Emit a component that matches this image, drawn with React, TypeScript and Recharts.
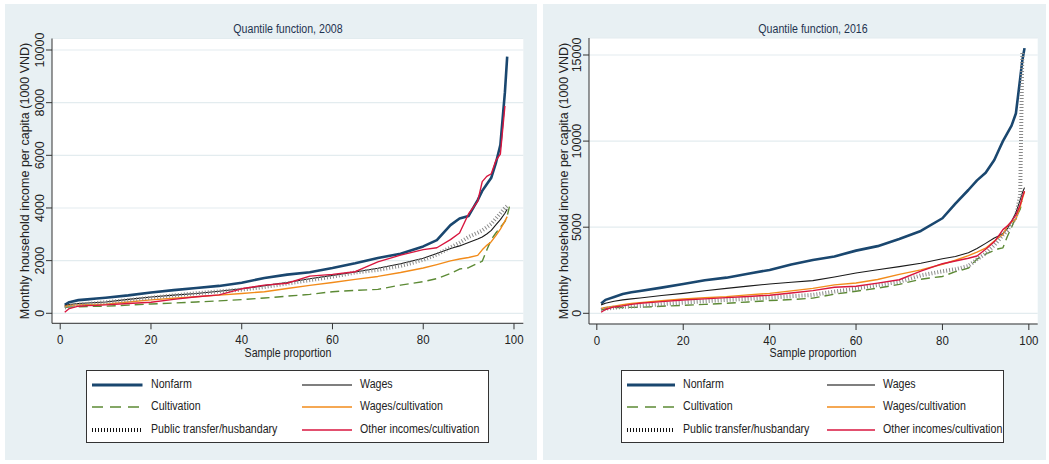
import React from "react";
import { LineChart, Line, XAxis, YAxis, CartesianGrid } from "recharts";

// sample proportion (%) at which the quantiles are read
const pct = [1, 2, 4, 6, 8, 10, 15, 20, 25, 30, 35, 40, 45, 50, 55, 60, 65, 70, 75, 80, 83, 86, 88, 90, 92, 93, 94, 95, 96, 97, 98, 98.5, 99];

// 2008 (1000 VND per capita per month)
const nonfarm2008 = [320, 420, 500, 530, 560, 590, 680, 790, 880, 960, 1040, 1160, 1340, 1470, 1560, 1720, 1900, 2100, 2260, 2540, 2780, 3350, 3600, 3700, 4300, 4650, 4900, 5150, 5700, 6400, 8400, 9750, null];
const wages2008 = [290, 330, 370, 390, 410, 430, 530, 620, 690, 750, 840, 930, 1050, 1170, 1310, 1440, 1570, 1710, 1880, 2090, 2270, 2460, 2560, 2690, 2820, 2900, 3010, 3150, 3360, 3560, 3800, 3950, null];
const cultivation2008 = [230, 240, 250, 260, 265, 270, 310, 355, 390, 430, 470, 520, 580, 650, 720, 820, 870, 910, 1070, 1200, 1320, 1510, 1680, 1730, 1900, 1980, 2400, 2800, 3050, 3270, 3480, 3700, 4050];
const wagesCult2008 = [260, 300, 320, 330, 340, 350, 430, 510, 570, 630, 690, 750, 820, 940, 1060, 1170, 1290, 1400, 1550, 1720, 1850, 1990, 2060, 2120, 2200, 2410, 2580, 2720, 2950, 3200, 3500, 3670, null];
const publicTr2008 = [220, 270, 330, 360, 390, 420, 500, 590, 680, 760, 830, 900, 1000, 1130, 1260, 1390, 1550, 1650, 1800, 2030, 2230, 2500, 2680, 2900, 3060, 3150, 3270, 3400, 3600, 3800, 4000, 4080, null];
const otherInc2008 = [40, 180, 270, 290, 300, 320, 370, 420, 530, 630, 700, 930, 1070, 1140, 1410, 1480, 1580, 1950, 2210, 2420, 2490, 2800, 3050, 3780, 4250, 5000, 5200, 5300, 5800, 6050, 7880, null, null];

// 2016
const nonfarm2016 = [570, 780, 950, 1120, 1220, 1300, 1490, 1700, 1920, 2070, 2300, 2520, 2840, 3100, 3300, 3640, 3900, 4320, 4780, 5520, 6370, 7160, 7720, 8160, 8900, 9450, 10000, 10450, 10900, 11600, 13650, 14700, 15400];
const wages2016 = [490, 580, 700, 780, 840, 890, 1030, 1160, 1310, 1450, 1580, 1700, 1800, 1900, 2110, 2340, 2530, 2710, 2910, 3170, 3300, 3520, 3760, 4060, 4370, 4490, 4640, 4900, 5330, 5850, 6600, 7000, 7300];
const cultivation2016 = [200, 260, 340, 340, 345, 350, 410, 465, 520, 580, 660, 740, 800, 880, 1110, 1280, 1460, 1680, 1980, 2140, 2420, 2620, 3150, 3440, 3660, 3750, 3800, 4450, 5000, 5550, 6050, 6500, null];
const wagesCult2016 = [280, 340, 420, 500, 570, 620, 730, 830, 900, 970, 1070, 1160, 1300, 1450, 1650, 1760, 1960, 2260, 2520, 2850, 3080, 3350, 3550, 3780, 4200, 4390, 4570, 5050, 5300, 5450, 6200, 6650, 7050];
const publicTr2016 = [190, 260, 330, 370, 400, 430, 530, 620, 700, 775, 840, 910, 990, 1070, 1260, 1430, 1640, 1830, 2200, 2440, 2560, 2750, 3130, 3480, 3960, 4250, 4550, 4800, 5200, 5600, 6900, 15200, null];
const otherInc2016 = [60, 220, 370, 430, 520, 580, 680, 775, 840, 910, 980, 1050, 1180, 1320, 1510, 1570, 1750, 1950, 2450, 2880, 3040, 3200, 3330, 3720, 4150, 4500, 4860, 5060, 5350, 5700, 6300, 6750, 7100];

const seriesKeys = ["nonfarm", "wages", "cultivation", "wagesCult", "publicTr", "otherInc"];
const seriesNames = ["Nonfarm", "Wages", "Cultivation", "Wages/cultivation", "Public transfer/husbandary", "Other incomes/cultivation"];

const xTicks = [0, 20, 40, 60, 80, 100];
const yTicks2008 = [0, 2000, 4000, 6000, 8000, 10000];
const yTicks2016 = [0, 5000, 10000, 15000];

const FONT = '"Liberation Sans", Arial, Helvetica, sans-serif';
const BG = "#e8f0f3";
const INK = "#222";

const lineStyle: Record<string, { stroke: string; width: number; dash?: string }> = {
  nonfarm: { stroke: "#1a476f", width: 2.6 },
  wages: { stroke: "#1a1a1a", width: 1.1 },
  cultivation: { stroke: "#5c8a35", width: 1.4, dash: "9 5" },
  wagesCult: { stroke: "#f28b1a", width: 1.4 },
  publicTr: { stroke: "#8a8a8a", width: 4, dash: "1 2" },
  otherInc: { stroke: "#d8163f", width: 1.4 },
};

const buildRows = (cols: (number | null)[][]) =>
  pct.map((p, i) => {
    const row: Record<string, number | null> = { p };
    seriesKeys.forEach((k, j) => {
      row[k] = cols[j][i];
    });
    return row;
  });

const rows2008 = buildRows([nonfarm2008, wages2008, cultivation2008, wagesCult2008, publicTr2008, otherInc2008]);
const rows2016 = buildRows([nonfarm2016, wages2016, cultivation2016, wagesCult2016, publicTr2016, otherInc2016]);

const XTick = (props: any) => {
  const { x, y, payload } = props;
  return (
    <text transform={`translate(${x},${y + 15}) scale(0.85,1)`} textAnchor="middle" fontSize={13.5} fill={INK} fontFamily={FONT}>
      {payload.value}
    </text>
  );
};

const YTick = (props: any) => {
  const { x, y, payload } = props;
  return (
    <text transform={`translate(${x - 2},${y}) rotate(-90)`} textAnchor="middle" fontSize={12.5} fill={INK} fontFamily={FONT}>
      {payload.value}
    </text>
  );
};

const hText = (size: number, origin: string): React.CSSProperties => ({
  position: "absolute",
  fontSize: size,
  fontFamily: FONT,
  color: INK,
  whiteSpace: "nowrap",
  lineHeight: 0.9,
  transformOrigin: origin,
});

interface PanelProps {
  left: number;
  width: number;
  title: string;
  rows: Record<string, number | null>[];
  yDomain: [number, number];
  yTicks: number[];
  margin: { top: number; right: number; bottom: number; left: number };
  titleX: number;
  yLabelX: number;
  yLabelY: number;
  xLabelX: number;
  legend: { left: number; width: number; col2: number; sym: number };
}

const Panel = (p: PanelProps) => {
  const H = 456;
  return (
    <div style={{ position: "absolute", left: p.left, top: 4, width: p.width, height: H, background: BG }}>
      <div style={{ ...hText(12.5, "center"), left: p.titleX, top: 25.5, color: "#1f3350", transform: "translate(-50%,-50%) scaleX(0.85)" }}>
        {p.title}
      </div>
      <LineChart width={p.width} height={H} data={p.rows} margin={p.margin}>
        <CartesianGrid horizontal vertical={false} stroke="#e3ecef" strokeWidth={1.2} fill="#ffffff" />
        <XAxis
          dataKey="p"
          type="number"
          domain={[-1.81, 102.05]}
          ticks={xTicks}
          allowDataOverflow
          height={30}
          tickSize={6}
          tickMargin={0}
          stroke="#333"
          tick={<XTick />}
        />
        <YAxis
          type="number"
          domain={p.yDomain}
          ticks={p.yTicks}
          allowDataOverflow
          width={40}
          tickSize={6}
          tickMargin={0}
          stroke="#333"
          tick={<YTick />}
        />
        {seriesKeys.map((k) => {
          const s = lineStyle[k];
          return (
            <Line
              key={k}
              type="linear"
              dataKey={k}
              stroke={s.stroke}
              strokeWidth={s.width}
              strokeDasharray={s.dash}
              dot={false}
              activeDot={false}
              isAnimationActive={false}
              strokeLinejoin="round"
            />
          );
        })}
      </LineChart>
      <div
        style={{
          ...hText(12.5, "center"),
          left: p.yLabelX,
          top: p.yLabelY,
          transform: "translate(-50%,-50%) rotate(-90deg)",
        }}
      >
        Monthly household income per capita (1000 VND)
      </div>
      <div style={{ ...hText(12.5, "center"), left: p.xLabelX, top: 350, transform: "translate(-50%,-50%) scaleX(0.85)" }}>
        Sample proportion
      </div>
      <div
        style={{
          position: "absolute",
          left: p.legend.left,
          top: 365.5,
          width: p.legend.width,
          height: 73.5,
          background: "#fff",
          border: "1px solid #333",
          boxSizing: "border-box",
        }}
      >
        {seriesKeys.map((k, i) => {
          const s = lineStyle[k];
          const col = i % 2;
          const row = Math.floor(i / 2);
          const x0 = col === 0 ? 5 : p.legend.col2;
          const cy = 14 + row * 22.5;
          return (
            <React.Fragment key={k}>
              <svg style={{ position: "absolute", left: x0, top: cy - 5 }} width={p.legend.sym} height={10}>
                <line
                  x1={0}
                  y1={5}
                  x2={p.legend.sym}
                  y2={5}
                  stroke={k === "wages" ? "#555" : k === "publicTr" ? "#111" : s.stroke}
                  strokeWidth={k === "publicTr" ? 4 : k === "nonfarm" ? 3 : 1.6}
                  strokeDasharray={k === "cultivation" ? "11 7" : s.dash}
                />
              </svg>
              <div style={{ ...hText(12.5, "left center"), left: x0 + p.legend.sym + 8, top: cy, transform: "translateY(-50%) scaleX(0.85)" }}>
                {seriesNames[i]}
              </div>
            </React.Fragment>
          );
        })}
      </div>
    </div>
  );
};

export default function App() {
  return (
    <div style={{ position: "absolute", left: 0, top: 0, width: 1049, height: 464, background: "#fff", overflow: "hidden" }}>
      <Panel
        left={5}
        width={532}
        title="Quantile function, 2008"
        rows={rows2008}
        yDomain={[-380, 10437]}
        yTicks={yTicks2008}
        margin={{ top: 34.5, right: 13.7, bottom: 106.7, left: 7 }}
        titleX={282.5}
        yLabelX={20.5}
        yLabelY={176.7}
        xLabelX={282.5}
        legend={{ left: 81, width: 403, col2: 214.7, sym: 50.5 }}
      />
      <Panel
        left={543}
        width={503}
        title="Quantile function, 2016"
        rows={rows2016}
        yDomain={[-621, 15987]}
        yTicks={yTicks2016}
        margin={{ top: 34, right: 8.3, bottom: 106, left: 6 }}
        titleX={270}
        yLabelX={21.5}
        yLabelY={177}
        xLabelX={270.3}
        legend={{ left: 78, width: 383, col2: 204.7, sym: 48 }}
      />
    </div>
  );
}
